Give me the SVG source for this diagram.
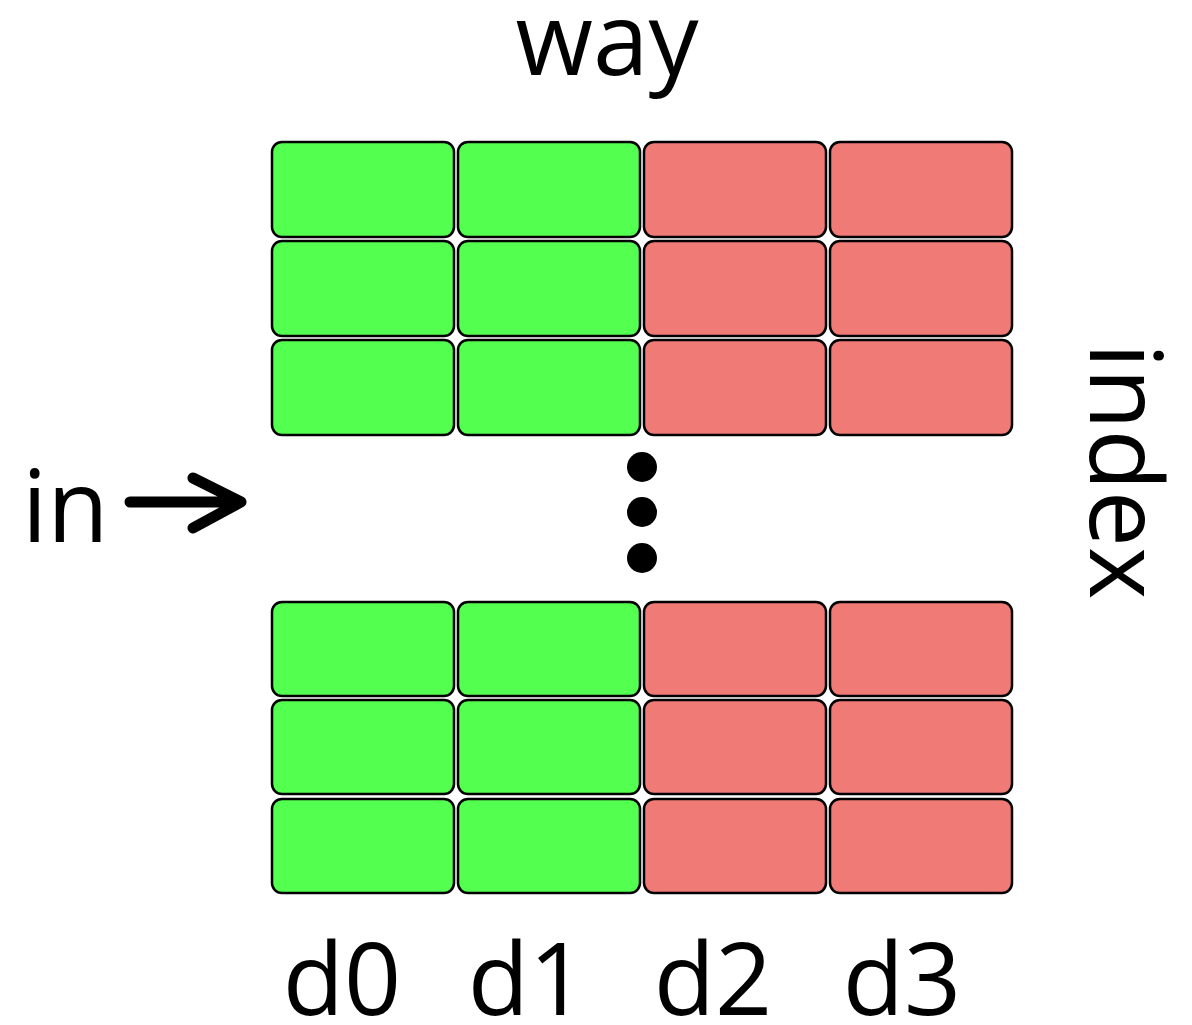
<svg xmlns="http://www.w3.org/2000/svg" width="1192" height="1025" viewBox="0 0 1192 1025">
<style>
.g{fill:#53FF4F;stroke:#000;stroke-width:2.5}
.r{fill:#F07A75;stroke:#000;stroke-width:2.5}
.t{font-family:"Open Sans","Liberation Sans",sans-serif;font-size:100px;fill:#000}
</style>
<rect width="1192" height="1025" fill="#fff"/>
<g id="top-rows">
<rect class="g" x="272" y="142" width="182" height="95" rx="10"/>
<rect class="g" x="458" y="142" width="182" height="95" rx="10"/>
<rect class="r" x="644" y="142" width="182" height="95" rx="10"/>
<rect class="r" x="830" y="142" width="182" height="95" rx="10"/>
<rect class="g" x="272" y="241" width="182" height="95" rx="10"/>
<rect class="g" x="458" y="241" width="182" height="95" rx="10"/>
<rect class="r" x="644" y="241" width="182" height="95" rx="10"/>
<rect class="r" x="830" y="241" width="182" height="95" rx="10"/>
<rect class="g" x="272" y="340" width="182" height="95" rx="10"/>
<rect class="g" x="458" y="340" width="182" height="95" rx="10"/>
<rect class="r" x="644" y="340" width="182" height="95" rx="10"/>
<rect class="r" x="830" y="340" width="182" height="95" rx="10"/>
</g>
<g id="bottom-rows">
<rect class="g" x="272" y="602" width="182" height="94" rx="10"/>
<rect class="g" x="458" y="602" width="182" height="94" rx="10"/>
<rect class="r" x="644" y="602" width="182" height="94" rx="10"/>
<rect class="r" x="830" y="602" width="182" height="94" rx="10"/>
<rect class="g" x="272" y="700" width="182" height="94" rx="10"/>
<rect class="g" x="458" y="700" width="182" height="94" rx="10"/>
<rect class="r" x="644" y="700" width="182" height="94" rx="10"/>
<rect class="r" x="830" y="700" width="182" height="94" rx="10"/>
<rect class="g" x="272" y="799" width="182" height="94" rx="10"/>
<rect class="g" x="458" y="799" width="182" height="94" rx="10"/>
<rect class="r" x="644" y="799" width="182" height="94" rx="10"/>
<rect class="r" x="830" y="799" width="182" height="94" rx="10"/>
</g>
<g id="dots">
<circle cx="642" cy="467" r="15"/>
<circle cx="642" cy="512" r="15"/>
<circle cx="642" cy="558" r="15"/>
</g>
<g id="connectors">
<path d="M130 502 H238 M193 478 L241 502 L193 528" fill="none" stroke="#000" stroke-width="11" stroke-linecap="round" stroke-linejoin="round"/>
</g>
<g id="labels">
<text class="t" x="607" y="75" text-anchor="middle">way</text>
<text class="t" x="22" y="542">in</text>
<text class="t" transform="translate(1090,343) rotate(90)">index</text>
<text class="t" x="342" y="1015" text-anchor="middle">d0</text>
<text class="t" x="527" y="1015" text-anchor="middle">d1</text>
<text class="t" x="713" y="1015" text-anchor="middle">d2</text>
<text class="t" x="902" y="1015" text-anchor="middle">d3</text>
</g>
</svg>
